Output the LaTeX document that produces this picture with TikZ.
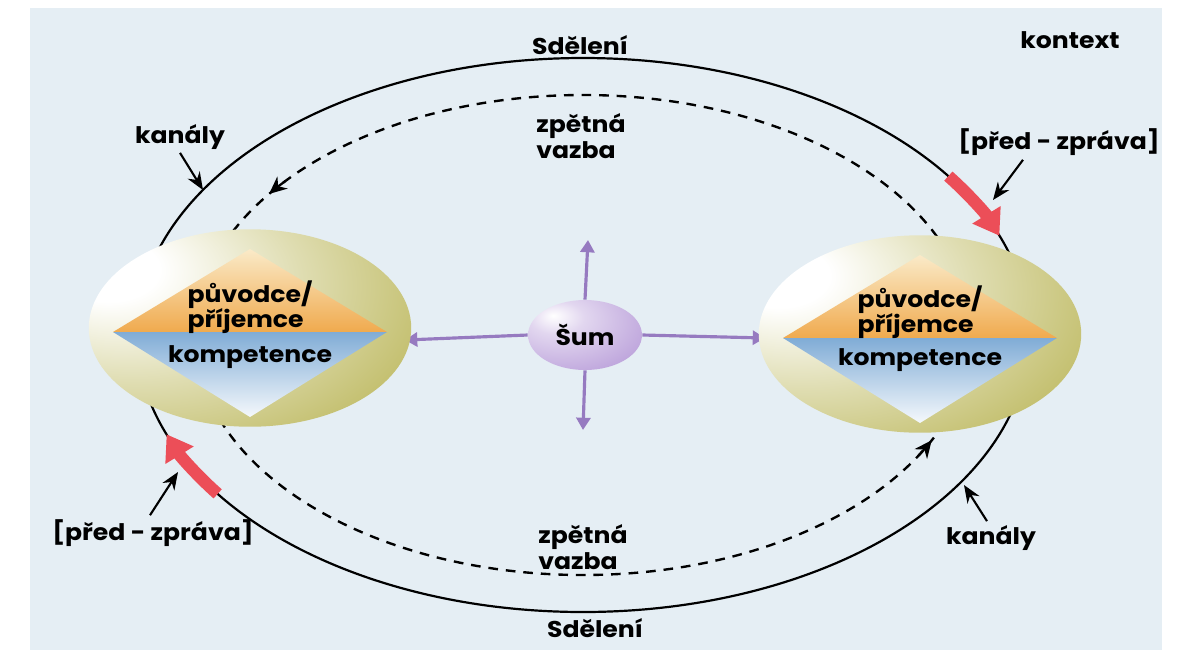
\documentclass[tikz,border=0pt]{standalone}
\usepackage{fontspec}
\setmainfont{Poppins}[FakeStretch=1.1]
\usetikzlibrary{arrows.meta}
\usetikzlibrary{shapes.geometric}
\usetikzlibrary{calc}

\definecolor{page}{RGB}{229,238,244}
\definecolor{olivesphere}{RGB}{196,192,112}
\definecolor{noisepurple}{RGB}{190,165,220}
\definecolor{noisearrow}{RGB}{150,122,192}
\definecolor{redarrow}{RGB}{236,78,88}
\definecolor{apexcream}{RGB}{250,234,200}
\definecolor{baseorange}{RGB}{240,170,78}
\definecolor{compblue}{RGB}{128,172,214}

\pgfdeclareradialshading{sphereshade}{\pgfpoint{-24bp}{16bp}}{color(0bp)=(white); color(8bp)=(white); color(26bp)=(olivesphere!55!white); color(42bp)=(olivesphere); color(100bp)=(olivesphere!85!black)}
\pgfdeclareradialshading{noiseshade}{\pgfpoint{-14bp}{14bp}}{color(0bp)=(white); color(12bp)=(noisepurple!45!white); color(38bp)=(noisepurple); color(100bp)=(noisepurple!80!black)}

\begin{document}
\begin{tikzpicture}[x=0.02cm, y=0.02cm,
  txt/.style={font=\bfseries\fontsize{13}{14.5}\selectfont, text=black, inner sep=0pt},
  sphere/.style={ellipse, minimum width=6.45cm, minimum height=3.95cm, inner sep=0pt, shade, shading=sphereshade},
  message/.style={line width=1.25pt},
  feedback/.style={line width=1.35pt, dash pattern=on 5.5pt off 4.5pt},
  pointer/.style={line width=1.2pt, -{Stealth[length=10pt, width=8pt]}},
  noise/.style={noisearrow, line width=1.8pt, -{Triangle[length=7pt, width=8pt]}},
  redhead/.style={redarrow, line width=7pt, -{Triangle[length=14pt, width=18pt]}}
]

\fill[white] (0,0) rectangle (1184,-657);
\fill[page] (30,-8) rectangle (1162,-650);
\useasboundingbox (0,0) rectangle (1184,-657);

\coordinate (ring) at (583,-335);

% message and feedback loops
\draw[message] (ring) ellipse [x radius=446, y radius=277];
\draw[feedback] (ring) ellipse [x radius=388, y radius=240];

\begin{scope}[line width=1.3pt, -{Stealth[length=10pt, width=9pt]}]
\draw ($(ring)+(140:388 and 240)$) arc[start angle=140, end angle=144, x radius=388, y radius=240];
\draw ($(ring)+(330:388 and 240)$) arc[start angle=330, end angle=334, x radius=388, y radius=240];
\end{scope}

% noise
\coordinate (noiseup) at (588,-240);
\coordinate (noisedown) at (583,-430);
\coordinate (noiseleft) at (405,-340);
\coordinate (noiseright) at (765,-338);
\node[ellipse, minimum width=2.28cm, minimum height=1.4cm, inner sep=0pt] (sum) at (585,-335) {};
\draw[noise] (sum.north) -- (noiseup);
\draw[noise] (sum.south) -- (noisedown);
\draw[noise] (sum.west) -- (noiseleft);
\draw[noise] (sum.east) -- (noiseright);
\node[ellipse, minimum width=2.28cm, minimum height=1.4cm, inner sep=0pt, shade, shading=noiseshade, txt] at (sum) {Šum};

% the two partners
\node[sphere] (lsph) at (250,-328) {};
\node[sphere] (rsph) at (920,-334) {};

\foreach \s in {lsph, rsph} {
  \shade[top color=apexcream, bottom color=baseorange] ($(\s)+(-137,-4)$) -- ($(\s)+(0,79)$) -- ($(\s)+(137,-4)$) -- cycle;
  \shade[top color=compblue, bottom color=white!92!compblue] ($(\s)+(-137,-4)$) -- ($(\s)+(137,-4)$) -- ($(\s)+(0,-89)$) -- cycle;
}

\node[txt, align=left] (lorig) at ($(lsph)+(0,21)$) {původce/\\příjemce};
\node[txt] (lcomp) at ($(lsph)+(0,-29)$) {kompetence};
\node[txt, align=left] (rorig) at ($(rsph)+(0,22)$) {původce/\\příjemce};
\node[txt] (rcomp) at ($(rsph)+(0,-26)$) {kompetence};

% labels
\node[txt] (kontext) at (1070,-40) {kontext};
\node[txt] (msgtop) at (580,-45) {Sdělení};
\node[txt] (msgbot) at (595,-628) {Sdělení};
\node[txt, align=left] (fbtop) at (581,-136) {zpětná\\vazba};
\node[txt, align=left] (fbbot) at (583,-547) {zpětná\\vazba};
\node[txt] (chantl) at (180,-137) {kanály};
\node[txt] (chanbr) at (991,-538) {kanály};
\node[txt] (pretr) at (1059,-142) {[před - zpráva]};
\node[txt] (prebl) at (153,-533) {[před - zpráva]};

\coordinate (chantltip) at (203,-190);
\coordinate (chanbrtip) at (964,-485);
\coordinate (pretrtip) at (993,-200);
\coordinate (prebltip) at (178,-472);

\draw[pointer] (chantl.south) ++(0,-3) -- (chantltip);
\draw[pointer] (chanbr.north) ++(-4,4) -- (chanbrtip);
\draw[pointer] (pretr.south) ++(-36,-4) -- (pretrtip);
\draw[pointer] (prebl.north) ++(-3,4) -- (prebltip);

% pre-messages
\draw[redhead] ($(ring)+(35:446 and 277)$) arc[start angle=35, end angle=21, x radius=446, y radius=277];
\draw[redhead] ($(ring)+(215:446 and 277)$) arc[start angle=215, end angle=201, x radius=446, y radius=277];

\end{tikzpicture}
\end{document}
